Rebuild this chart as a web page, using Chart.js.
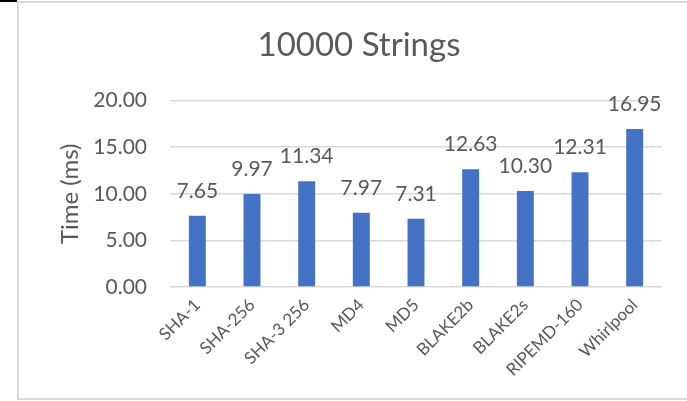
<!DOCTYPE html>
<html>
<head>
<meta charset="utf-8">
<title>10000 Strings</title>
<script src="https://cdn.jsdelivr.net/npm/chart.js@4"></script>
<style>
    html, body { margin: 0; padding: 0; background: #fff; overflow: hidden; }
    #marco {
        position: absolute; left: 17px; top: 1px;
        width: 700px; height: 395px;
        border: 2px solid #d9d9d9; border-right: none;
    }
    #esquina { position: absolute; left: 0; top: 0; width: 17px; height: 2px; background: #000; }
    #wrap { position: absolute; left: 0; top: 0; width: 687px; height: 401px; }
</style>
</head>
<body>
<div id="marco"></div>
<div id="esquina"></div>
<div id="wrap"><canvas id="chartTiempos" width="687" height="401"></canvas></div>
<script>
// Datos del gráfico
const algoritmos = ['SHA-1', 'SHA-256', 'SHA-3 256', 'MD4', 'MD5', 'BLAKE2b', 'BLAKE2s', 'RIPEMD-160', 'Whirlpool'];
const tiempos = [7.65, 9.97, 11.34, 7.97, 7.31, 12.63, 10.30, 12.31, 16.95];
const ticksY = [0, 5, 10, 15, 20];

const GRIS_TEXTO = '#595959';
const GRIS_GRID = '#d9d9d9';
const FUENTE = 'Lato, "Open Sans", sans-serif';

// Etiquetas de valor encima de cada barra
const etiquetasValor = {
    id: 'etiquetasValor',
    afterDatasetsDraw(chart) {
        const ctx = chart.ctx;
        const meta = chart.getDatasetMeta(0);
        ctx.save();
        ctx.fillStyle = GRIS_TEXTO;
        ctx.font = '21px ' + FUENTE;
        ctx.textAlign = 'center';
        ctx.textBaseline = 'alphabetic';
        meta.data.forEach((bar, i) => {
            ctx.fillText(tiempos[i].toFixed(2), bar.x, bar.y - 18);
        });
        ctx.restore();
    }
};

const ctx = document.getElementById('chartTiempos').getContext('2d');
new Chart(ctx, {
    type: 'bar',
    data: {
        labels: algoritmos,
        datasets: [{
            label: 'Time (ms)',
            data: tiempos,
            backgroundColor: '#4472c4',
            borderWidth: 0,
            categoryPercentage: 1,
            barPercentage: 0.31
        }]
    },
    options: {
        responsive: false,
        animation: false,
        layout: { padding: { left: 56, right: 25, top: 26, bottom: 14 } },
        plugins: {
            legend: { display: false },
            tooltip: { enabled: false },
            title: {
                display: true,
                text: '10000 Strings',
                color: GRIS_TEXTO,
                font: { family: FUENTE, size: 33, weight: 'normal' },
                padding: { top: 0, bottom: 35 }
            }
        },
        scales: {
            y: {
                min: 0,
                max: 20,
                afterBuildTicks: axis => { axis.ticks = ticksY.map(v => ({ value: v })); },
                afterFit: axis => { axis.width = 114; },
                border: { display: false },
                grid: { color: GRIS_GRID, lineWidth: 1.5, drawTicks: false },
                ticks: {
                    color: GRIS_TEXTO,
                    padding: 23,
                    font: { family: FUENTE, size: 21 },
                    callback: v => Number(v).toFixed(2)
                },
                title: {
                    display: true,
                    text: 'Time (ms)',
                    color: GRIS_TEXTO,
                    font: { family: FUENTE, size: 24 },
                    padding: { top: 0, bottom: 0 }
                }
            },
            x: {
                afterFit: axis => { axis.height = 100; },
                border: { display: false },
                grid: { display: false, drawTicks: false },
                ticks: {
                    color: GRIS_TEXTO,
                    padding: 8,
                    minRotation: 45,
                    maxRotation: 45,
                    autoSkip: false,
                    font: { family: FUENTE, size: 17 }
                }
            }
        }
    },
    plugins: [etiquetasValor]
});
</script>
</body>
</html>
